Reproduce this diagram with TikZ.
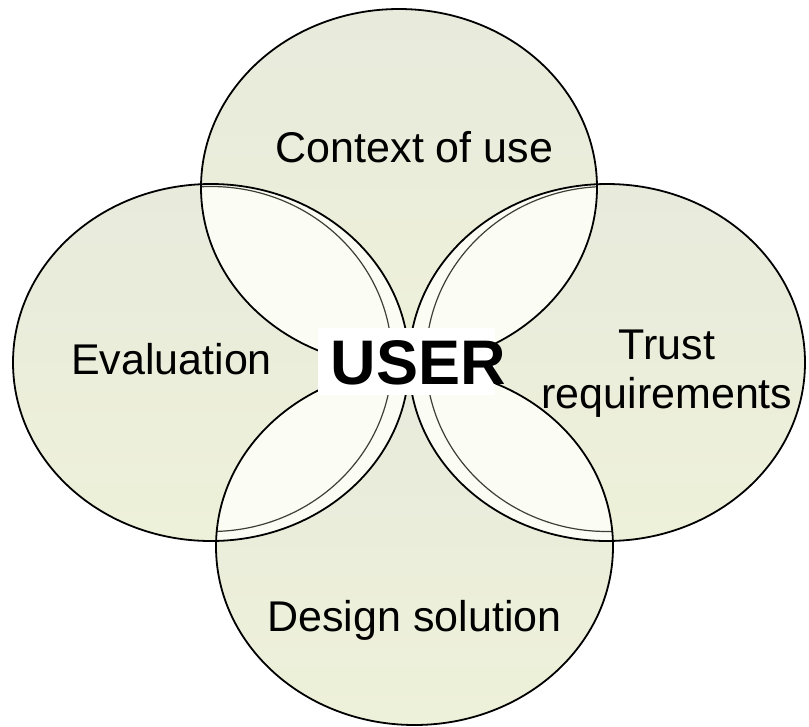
\documentclass[tikz,border=0pt]{standalone}
\usepackage{fontspec}
\setmainfont{Liberation Sans}
\definecolor{ellTop}{HTML}{E8EADC}
\definecolor{ellBot}{HTML}{EEF1D9}
\definecolor{petal}{HTML}{FBFCF3}
\definecolor{innerln}{HTML}{3E4036}
\begin{document}
\begin{tikzpicture}[x=1pt,y=-1pt,
  shadefill/.style={top color=ellTop,bottom color=ellBot},
  outl/.style={draw=black,line width=1.8pt},
  innerl/.style={draw=innerln,line width=1.2pt},
  lbl/.style={font=\fontsize{43}{49}\selectfont,anchor=base,inner sep=0pt},
  userlbl/.style={font=\fontsize{63}{70}\selectfont\bfseries,anchor=base,inner sep=0pt},
  userbox/.style={fill=white,draw=none,minimum width=177pt,minimum height=67pt,inner sep=0pt}]
\useasboundingbox (0,0) rectangle (809,726);
\def\topE{(399,187.5) ellipse [x radius=198, y radius=178.5]}
\def\leftE{(211,362.5) ellipse [x radius=198, y radius=178.5]}
\def\rightE{(607,362.5) ellipse [x radius=198, y radius=178.5]}
\def\botE{(414.5,546.5) ellipse [x radius=198.5, y radius=178.5]}
\def\leftIn{(211,359) ellipse [x radius=181, y radius=172.5]}
\def\rightIn{(607,359) ellipse [x radius=181, y radius=172.5]}
% fills
\shade[shadefill] \topE;
\shade[shadefill] \leftE;
\shade[shadefill] \rightE;
\shade[shadefill] \botE;
% overlaps
\begin{scope}
  \clip \topE;
  \fill[petal] \leftE;
  \fill[petal] \rightE;
  \draw[innerl] \leftIn;
  \draw[innerl] \rightIn;
\end{scope}
\begin{scope}
  \clip \botE;
  \fill[petal] \leftE;
  \fill[petal] \rightE;
  \draw[innerl] \leftIn;
  \draw[innerl] \rightIn;
\end{scope}
% outlines
\draw[outl] \topE;
\draw[outl] \leftE;
\draw[outl] \rightE;
\draw[outl] \botE;
% labels
\node[lbl] (ctx) at (414.5,162) {Context of use};
\node[lbl] (eval) at (171.5,374) {Evaluation};
\node[lbl] (trustA) at (667,359) {Trust};
\node[lbl] (trustB) at (667,408) {requirements};
\node[lbl] (design) at (414.5,631) {Design solution};
\node[userbox] (ubox) at (406.5,361.5) {};
\node[userlbl] (user) at (418.5,384) {USER};
\end{tikzpicture}
\end{document}
